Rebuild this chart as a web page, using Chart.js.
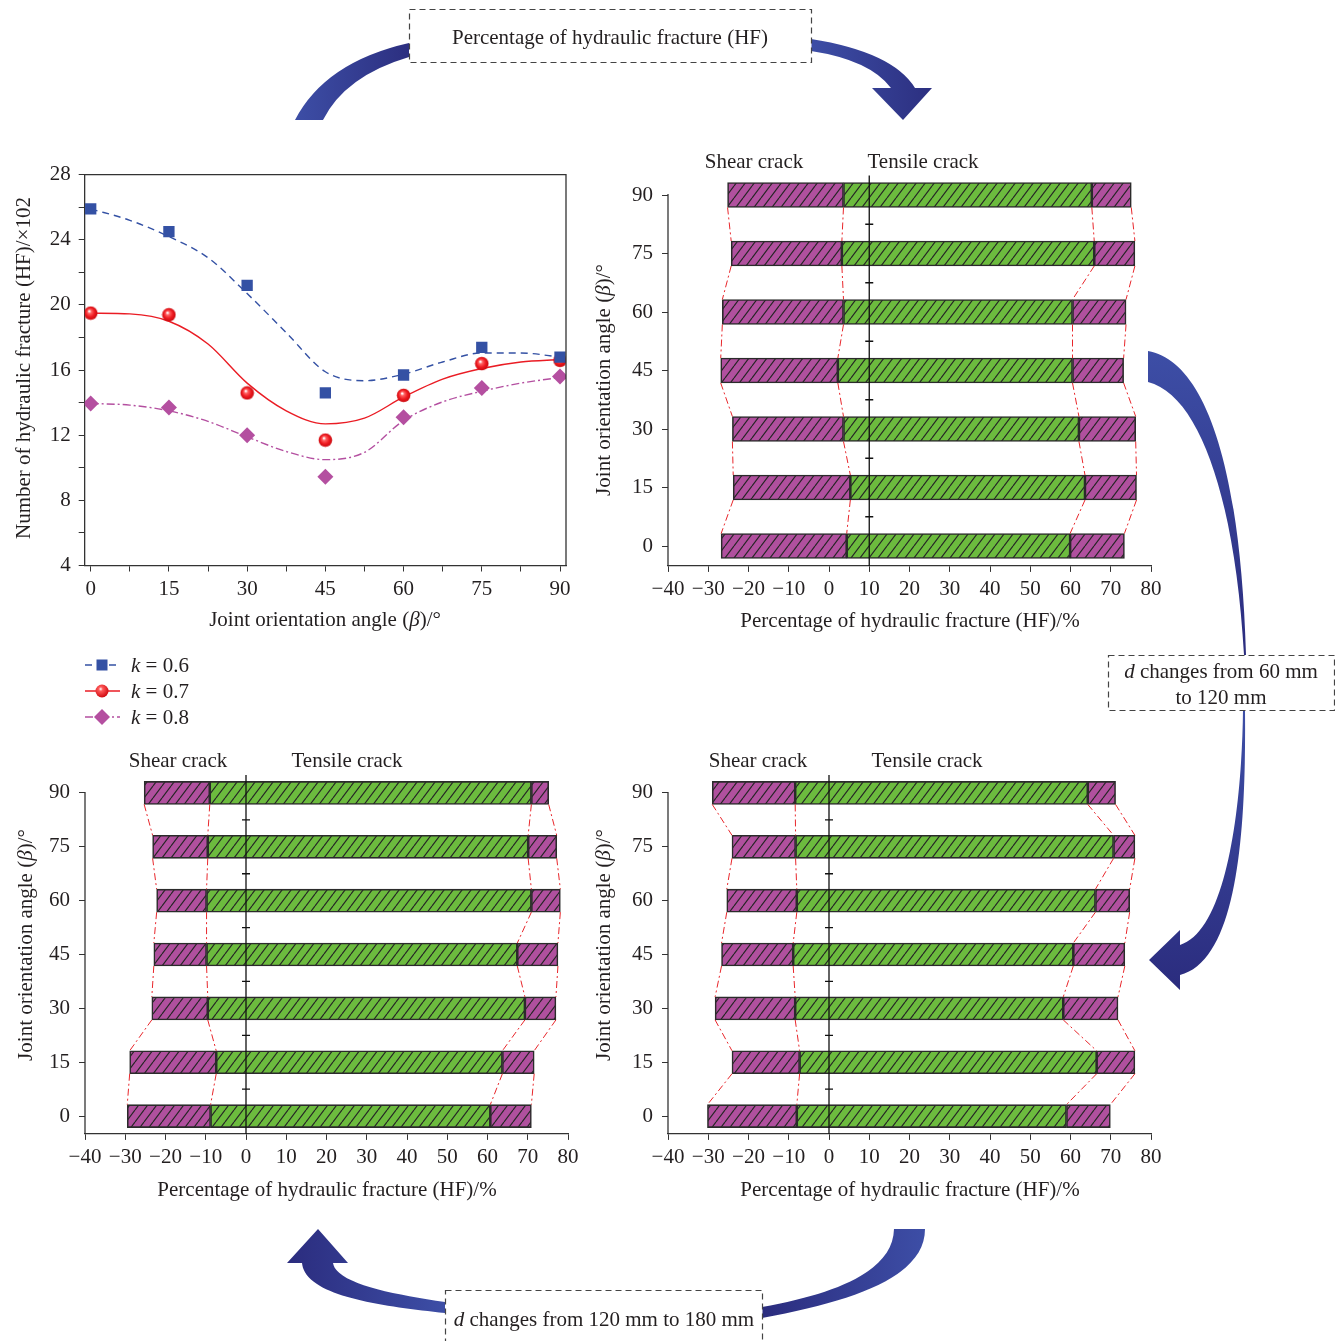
<!DOCTYPE html>
<html><head><meta charset="utf-8">
<script src="https://cdn.jsdelivr.net/npm/chart.js@4.4.1/dist/chart.umd.min.js"></script>
<style>
html,body{margin:0;padding:0;background:#fff;}
#wrap{position:relative;width:1335px;height:1341px;overflow:hidden;background:#fff;}
canvas{position:absolute;}
svg{position:absolute;left:0;top:0;}
svg text{font-family:'Liberation Serif','Times New Roman',serif;font-size:21px;fill:#231f20;}
</style></head><body>
<div id="wrap">
<canvas id="cTL" width="600" height="500" style="left:0;top:150px"></canvas>
<canvas id="cTR" width="600" height="500" style="left:590px;top:150px"></canvas>
<canvas id="cBL" width="600" height="470" style="left:0;top:750px"></canvas>
<canvas id="cBR" width="600" height="470" style="left:590px;top:750px"></canvas>
<svg id="ov" width="1335" height="1341" xmlns="http://www.w3.org/2000/svg">
<defs>
<linearGradient id="gA" x1="0" y1="0" x2="1" y2="0"><stop offset="0" stop-color="#3d4ea6"/><stop offset="1" stop-color="#2c2f80"/></linearGradient>
<linearGradient id="gB" x1="0" y1="0" x2="0" y2="1"><stop offset="0" stop-color="#3d4ea6"/><stop offset="1" stop-color="#2b2c7e"/></linearGradient>
<linearGradient id="gC" x1="1" y1="0" x2="0" y2="0"><stop offset="0" stop-color="#3d4ea6"/><stop offset="1" stop-color="#2b2c7e"/></linearGradient>
<radialGradient id="sph" cx="0.4" cy="0.35" r="0.65"><stop offset="0" stop-color="#ffffff"/><stop offset="0.25" stop-color="#ff5a5a"/><stop offset="1" stop-color="#d0090f"/></radialGradient>
</defs>
<!-- arrows -->
<path d="M 409 43 Q 325 62 295 120 L 323 120 Q 345 76 409 57 Z" fill="url(#gA)"/>
<path d="M 811 39 Q 893 52 915 88 L 932 88 L 903 120 L 872 88 L 891 88 Q 870 60 811 51 Z" fill="url(#gA)"/>
<path d="M 1148 351 C 1200 360 1240 450 1246 655 L 1244 655 C 1235 500 1200 395 1148 382 Z" fill="url(#gB)"/>
<path d="M 1243 710 C 1242 800 1228 930 1180 945 L 1180 930 L 1149 960 L 1180 990 L 1180 975 C 1240 960 1246 820 1245 710 Z" fill="url(#gB)"/>
<path d="M 762 1307 C 840 1293 893 1270 894 1229 L 925 1229 C 925 1275 860 1300 762 1318 Z" fill="url(#gC)"/>
<path d="M 445 1313 C 380 1306 305 1296 302 1263 L 287 1263 L 318 1229 L 348 1263 L 333 1263 C 336 1283 390 1294 445 1302 Z" fill="url(#gC)"/>
<!-- dashed boxes -->
<rect x="409.5" y="9.5" width="402" height="53" fill="#fff" stroke="#444" stroke-width="1.2" stroke-dasharray="6 4"/>
<rect x="1108.5" y="655.5" width="226" height="55" fill="#fff" stroke="#444" stroke-width="1.2" stroke-dasharray="6 4"/>
<rect x="445.5" y="1290.5" width="317" height="70" fill="#fff" stroke="#444" stroke-width="1.2" stroke-dasharray="6 4"/>
<text x="610" y="37" text-anchor="middle" dominant-baseline="central">Percentage of hydraulic fracture (HF)</text>
<text x="1221" y="671" text-anchor="middle" dominant-baseline="central"><tspan font-style="italic">d</tspan> changes from 60 mm</text>
<text x="1221" y="697" text-anchor="middle" dominant-baseline="central">to 120 mm</text>
<text x="604" y="1319" text-anchor="middle" dominant-baseline="central"><tspan font-style="italic">d</tspan> changes from 120 mm to 180 mm</text>
<!-- axis titles -->
<text x="325" y="619" text-anchor="middle" dominant-baseline="central">Joint orientation angle (<tspan font-style="italic">β</tspan>)/°</text>
<text transform="translate(23,368) rotate(-90)" text-anchor="middle" dominant-baseline="central">Number of hydraulic fracture (HF)/×102</text>
<text x="910" y="620" text-anchor="middle" dominant-baseline="central">Percentage of hydraulic fracture (HF)/%</text>
<text transform="translate(603,380) rotate(-90)" text-anchor="middle" dominant-baseline="central">Joint orientation angle (<tspan font-style="italic">β</tspan>)/°</text>
<text x="327" y="1189" text-anchor="middle" dominant-baseline="central">Percentage of hydraulic fracture (HF)/%</text>
<text transform="translate(25,945) rotate(-90)" text-anchor="middle" dominant-baseline="central">Joint orientation angle (<tspan font-style="italic">β</tspan>)/°</text>
<text x="910" y="1189" text-anchor="middle" dominant-baseline="central">Percentage of hydraulic fracture (HF)/%</text>
<text transform="translate(603,945) rotate(-90)" text-anchor="middle" dominant-baseline="central">Joint orientation angle (<tspan font-style="italic">β</tspan>)/°</text>
<!-- crack labels -->
<text x="754" y="161" text-anchor="middle" dominant-baseline="central">Shear crack</text>
<text x="923" y="161" text-anchor="middle" dominant-baseline="central">Tensile crack</text>
<text x="178" y="760" text-anchor="middle" dominant-baseline="central">Shear crack</text>
<text x="347" y="760" text-anchor="middle" dominant-baseline="central">Tensile crack</text>
<text x="758" y="760" text-anchor="middle" dominant-baseline="central">Shear crack</text>
<text x="927" y="760" text-anchor="middle" dominant-baseline="central">Tensile crack</text>
<!-- legend -->
<line x1="85" y1="665" x2="120" y2="665" stroke="#3451a4" stroke-width="1.4" stroke-dasharray="7 5"/>
<rect x="96.5" y="659.5" width="11" height="11" fill="#3451a4"/>
<line x1="85" y1="691" x2="120" y2="691" stroke="#ea1c24" stroke-width="1.4"/>
<circle cx="102" cy="691" r="6.5" fill="url(#sph)"/>
<line x1="85" y1="717" x2="120" y2="717" stroke="#b44fa0" stroke-width="1.4" stroke-dasharray="8 3 2 3"/>
<path d="M 102 709 L 110 717 L 102 725 L 94 717 Z" fill="#b44fa0"/>
<text x="131" y="665" dominant-baseline="central"><tspan font-style="italic">k</tspan> = 0.6</text>
<text x="131" y="691" dominant-baseline="central"><tspan font-style="italic">k</tspan> = 0.7</text>
<text x="131" y="717" dominant-baseline="central"><tspan font-style="italic">k</tspan> = 0.8</text>
</svg>
</div>
<script>
// ---------- data: number of hydraulic fractures (x10^2) ----------
const angles = [0, 15, 30, 45, 60, 75, 90];
const k06 = [25.9, 24.5, 21.2, 14.6, 15.7, 17.4, 16.8];
const k07 = [19.5, 19.4, 14.6, 11.7, 14.45, 16.4, 16.6];
const k08 = [13.95, 13.7, 12.0, 9.45, 13.1, 14.9, 15.6];
// fitted curves
const fitAngles = [0, 7.5, 15, 22.5, 30, 37.5, 45, 52.5, 60, 67.5, 75, 82.5, 90];
const fit06 = [25.9, 25.2, 24.2, 22.9, 20.7, 18.3, 15.9, 15.35, 15.75, 16.5, 17.05, 17.05, 16.8];
const fit07 = [19.5, 19.45, 19.0, 17.6, 15.2, 13.5, 12.7, 13.05, 14.35, 15.45, 16.1, 16.5, 16.65];
const fit08 = [13.95, 13.85, 13.5, 12.85, 11.9, 11.0, 10.5, 10.95, 12.9, 14.05, 14.7, 15.2, 15.55];
const xTicksTL = [0, 7.5, 15, 22.5, 30, 37.5, 45, 52.5, 60, 67.5, 75, 82.5, 90];
const yTicksTL = [4, 6, 8, 10, 12, 14, 16, 18, 20, 22, 24, 26, 28];

// ---------- data: percentage of HF (bars), per joint angle 0..90 ----------
const beta = [0, 15, 30, 45, 60, 75, 90];
const betaMid = [7.5, 22.5, 37.5, 52.5, 67.5, 82.5];
const pctTicks = [-40, -30, -20, -10, 0, 10, 20, 30, 40, 50, 60, 70, 80];
// d = 60 mm (top right)
const d60ShearStart = [-26.8, -23.8, -24.0, -26.9, -26.5, -24.3, -25.2];
const d60Boundary   = [4.4, 5.3, 3.6, 2.2, 3.6, 3.2, 3.6];
const d60TensileEnd = [59.9, 63.6, 62.1, 60.5, 60.5, 65.9, 65.3];
const d60End        = [73.4, 76.4, 76.2, 73.2, 73.8, 76.0, 75.1];
const d60Centre = 10;
// d = 120 mm (bottom right)
const d120ShearStart = [-30.2, -24.1, -28.3, -26.7, -25.4, -24.1, -29.0];
const d120Boundary   = [-8.0, -7.3, -8.4, -8.9, -8.0, -8.3, -8.4];
const d120TensileEnd = [59.0, 66.5, 58.2, 60.7, 66.2, 70.7, 64.3];
const d120End        = [69.9, 76.0, 71.8, 73.5, 74.7, 76.0, 71.2];
const d120Centre = 0;
// d = 180 mm (bottom left)
const d180ShearStart = [-29.5, -28.9, -23.4, -22.9, -22.2, -23.2, -25.3];
const d180Boundary   = [-8.8, -7.4, -9.5, -9.8, -9.8, -9.5, -9.0];
const d180TensileEnd = [60.7, 63.7, 69.3, 67.4, 70.9, 70.1, 70.9];
const d180End        = [70.9, 71.6, 77.0, 77.5, 78.1, 77.2, 75.2];
const d180Centre = 0;

const FONT = "'Liberation Serif','Times New Roman',serif";
Chart.defaults.font.family = FONT;
Chart.defaults.font.size = 21;
Chart.defaults.color = '#231f20';

const AXIS = '#333';
const BLUE = '#3451a4', RED = '#ea1c24', MAG = '#b44fa0';
const PURPLE = '#b0509e', GREEN = '#6cbb3e';

function hatch(color) {
  const w = 9, h = 12;
  const c = document.createElement('canvas'); c.width = w; c.height = h;
  const g = c.getContext('2d');
  g.fillStyle = color; g.fillRect(0, 0, w, h);
  g.strokeStyle = '#262626'; g.lineWidth = 1.2;
  g.beginPath();
  for (let k = -1; k <= 1; k++) { g.moveTo(k * w, h); g.lineTo(k * w + w, 0); }
  g.stroke();
  return g.createPattern(c, 'repeat');
}
function sphere() {
  const c = document.createElement('canvas'); c.width = 15; c.height = 15;
  const g = c.getContext('2d');
  const gr = g.createRadialGradient(6, 5.5, 0.5, 7.5, 7.5, 7.2);
  gr.addColorStop(0, '#ffffff'); gr.addColorStop(0.22, '#ff6060'); gr.addColorStop(0.6, '#ee1a20'); gr.addColorStop(1, '#c4080d');
  g.fillStyle = gr; g.beginPath(); g.arc(7.5, 7.5, 6.8, 0, Math.PI * 2); g.fill();
  return c;
}
const minusFmt = v => (v < 0 ? '\u2212' + Math.abs(v) : String(v));

// frame plugin for the line chart
const framePlugin = {
  id: 'frame',
  afterDraw(chart) {
    const {ctx, chartArea: a} = chart;
    ctx.save(); ctx.strokeStyle = AXIS; ctx.lineWidth = 1.3;
    ctx.beginPath();
    ctx.moveTo(a.left, a.top); ctx.lineTo(a.right, a.top); ctx.lineTo(a.right, a.bottom);
    ctx.stroke(); ctx.restore();
  }
};

// ----- line chart -----
const sph = sphere();
const pts = (xs, ys) => xs.map((x, i) => ({x, y: ys[i]}));
new Chart(document.getElementById('cTL'), {
  type: 'scatter',
  data: {datasets: [
    {label: 'k = 0.6', data: pts(angles, k06), pointStyle: 'rect', pointRadius: 8, backgroundColor: BLUE, borderWidth: 0},
    {label: 'k = 0.7', data: pts(angles, k07), pointStyle: sph, backgroundColor: RED, borderWidth: 0},
    {label: 'k = 0.8', data: pts(angles, k08), pointStyle: 'rectRot', pointRadius: 8, backgroundColor: MAG, borderWidth: 0},
    {label: 'fit 0.6', data: pts(fitAngles, fit06), showLine: true, pointRadius: 0, borderColor: BLUE, borderWidth: 1.4, borderDash: [7, 5], cubicInterpolationMode: 'monotone'},
    {label: 'fit 0.7', data: pts(fitAngles, fit07), showLine: true, pointRadius: 0, borderColor: RED, borderWidth: 1.4, cubicInterpolationMode: 'monotone'},
    {label: 'fit 0.8', data: pts(fitAngles, fit08), showLine: true, pointRadius: 0, borderColor: MAG, borderWidth: 1.4, borderDash: [8, 3, 2, 3], cubicInterpolationMode: 'monotone'}
  ]},
  options: {
    responsive: false, animation: false,
    layout: {autoPadding: false, padding: {left: 0, top: 24.7, right: 34, bottom: 0}},
    plugins: {legend: {display: false}, tooltip: {enabled: false}},
    scales: {
      x: {type: 'linear', min: -1.15, max: 91.15,
        afterBuildTicks: s => { s.ticks = xTicksTL.map(v => ({value: v})); },
        afterFit: s => { s.height = 84.5; },
        ticks: {autoSkip: false, maxRotation: 0, padding: 5, callback: v => (v % 15 === 0 ? String(v) : '')},
        grid: {drawOnChartArea: false, drawTicks: true, tickLength: 6, color: AXIS, lineWidth: 1},
        border: {color: AXIS, width: 1.3}},
      y: {type: 'linear', min: 4, max: 28,
        afterBuildTicks: s => { s.ticks = yTicksTL.map(v => ({value: v})); },
        afterFit: s => { s.width = 84.7; },
        ticks: {autoSkip: false, padding: 8, callback: v => (v % 4 === 0 ? String(v) : '')},
        grid: {drawOnChartArea: false, drawTicks: true, tickLength: 6, color: AXIS, lineWidth: 1},
        border: {color: AXIS, width: 1.3}}
    }
  },
  plugins: [framePlugin]
});

// ----- bar charts -----
const decorPlugin = {
  id: 'hfDecor',
  afterDatasetsDraw(chart, args, opts) {
    const ctx = chart.ctx, xs = chart.scales.x, ys = chart.scales.y, a = chart.chartArea;
    ctx.save();
    // y axis line (from 90 down)
    ctx.strokeStyle = AXIS; ctx.lineWidth = 1.3;
    ctx.beginPath(); ctx.moveTo(a.left, ys.getPixelForValue(90) - 1); ctx.lineTo(a.left, a.bottom); ctx.stroke();
    // centre line with mid ticks
    const cx = xs.getPixelForValue(opts.centre);
    ctx.strokeStyle = '#111'; ctx.lineWidth = 1.3;
    ctx.beginPath(); ctx.moveTo(cx, a.bottom); ctx.lineTo(cx, a.top);
    betaMid.forEach(v => { const py = ys.getPixelForValue(v); ctx.moveTo(cx - 4, py); ctx.lineTo(cx + 4, py); });
    ctx.stroke();
    // dash-dot connectors
    const m = [0, 1, 2].map(i => chart.getDatasetMeta(i).data);
    const edges = i => [Math.min(m[0][i].base, m[0][i].x), Math.max(m[0][i].base, m[0][i].x),
                        Math.max(m[1][i].base, m[1][i].x), Math.max(m[2][i].base, m[2][i].x)];
    ctx.strokeStyle = '#e8262b'; ctx.lineWidth = 1; ctx.setLineDash([7, 3, 2, 3]);
    for (let i = 0; i < m[0].length - 1; i++) {
      const lo = edges(i), hi = edges(i + 1);
      const loTop = m[0][i].y - m[0][i].height / 2;
      const hiBot = m[0][i + 1].y + m[0][i + 1].height / 2;
      for (let e = 0; e < 4; e++) {
        ctx.beginPath(); ctx.moveTo(hi[e], hiBot); ctx.lineTo(lo[e], loTop); ctx.stroke();
      }
    }
    ctx.restore();
  }
};

const hPurple = hatch(PURPLE), hGreen = hatch(GREEN);
function barChart(id, s0, s1, s2, s3, centre, cfg) {
  const seg = (a, b) => beta.map((bv, i) => ({y: bv, x: [a[i], b[i]]}));
  const common = {grouped: false, barThickness: cfg.thick, borderColor: '#2b2b2b', borderWidth: 1.6, borderSkipped: false};
  return new Chart(document.getElementById(id), {
    type: 'bar',
    data: {datasets: [
      Object.assign({label: 'Shear crack', data: seg(s0, s1), backgroundColor: hPurple}, common),
      Object.assign({label: 'Tensile crack', data: seg(s1, s2), backgroundColor: hGreen}, common),
      Object.assign({label: 'Shear crack (end)', data: seg(s2, s3), backgroundColor: hPurple}, common)
    ]},
    options: {
      indexAxis: 'y', responsive: false, animation: false,
      layout: {autoPadding: false, padding: {left: 0, top: cfg.top, right: cfg.right, bottom: 0}},
      plugins: {legend: {display: false}, tooltip: {enabled: false}, hfDecor: {centre}},
      scales: {
        x: {type: 'linear', min: -40, max: 80, offset: false,
          afterBuildTicks: s => { s.ticks = pctTicks.map(v => ({value: v})); },
          afterFit: s => { s.height = cfg.xh; },
          ticks: {autoSkip: false, maxRotation: 0, padding: 5, callback: minusFmt},
          grid: {offset: false, drawOnChartArea: false, drawTicks: true, tickLength: 6, color: AXIS, lineWidth: 1},
          border: {color: AXIS, width: 1.3}},
        y: {type: 'linear', min: cfg.ymin, max: 95, offset: false,
          afterBuildTicks: s => { s.ticks = beta.map(v => ({value: v})); },
          afterFit: s => { s.width = cfg.yw; },
          ticks: {autoSkip: false, padding: 9},
          grid: {offset: false, drawOnChartArea: false, drawTicks: true, tickLength: 6, color: AXIS, lineWidth: 1},
          border: {display: false}}
      }
    },
    plugins: [decorPlugin]
  });
}
barChart('cTR', d60ShearStart, d60Boundary, d60TensileEnd, d60End, d60Centre,
  {thick: 25, top: 25.5, right: 39, ymin: -5.1, xh: 84.1, yw: 78});
barChart('cBR', d120ShearStart, d120Boundary, d120TensileEnd, d120End, d120Centre,
  {thick: 23, top: 25, right: 39, ymin: -4.95, xh: 86.1, yw: 78});
barChart('cBL', d180ShearStart, d180Boundary, d180TensileEnd, d180End, d180Centre,
  {thick: 23, top: 25, right: 32, ymin: -4.95, xh: 86.1, yw: 85});
</script>
</body></html>
